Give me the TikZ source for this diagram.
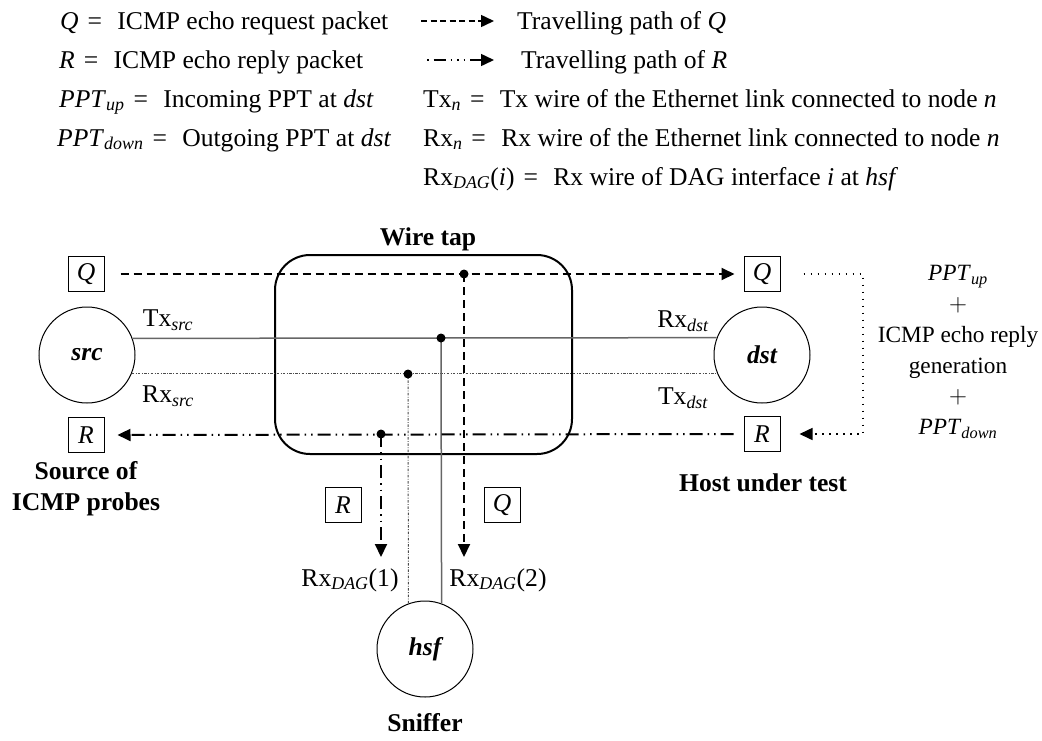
\documentclass[tikz,border=0pt]{standalone}
\usepackage{fontspec}
\setmainfont{Liberation Serif}
\usetikzlibrary{arrows.meta,calc}
\newcommand\subi[1]{\textsubscript{\itshape #1}}
\newcommand\eqs{\hspace{.35em}=\hspace{.6em}}
\begin{document}
\begin{tikzpicture}[x=1pt,y=-1pt,
  every node/.style={font=\fontsize{25.6}{30.6}\selectfont, inner sep=0pt},
  host/.style={circle, draw, line width=1pt, minimum size=96pt,
    font=\fontsize{25.6}{30.6}\selectfont\bfseries\itshape},
  pkt/.style={draw, line width=1pt, minimum width=36pt, minimum height=35pt,
    font=\fontsize{25.6}{30.6}\selectfont\itshape},
  caption/.style={font=\fontsize{25.6}{31}\selectfont\bfseries, align=center},
  note/.style={font=\fontsize{23.3}{30.8}\selectfont, align=center},
  tip/.style={-{Triangle[length=13pt,width=12pt]}},
  qpath/.style={line width=2pt, dash pattern=on 8pt off 5pt},
  rpath/.style={line width=2pt, dash pattern=on 13pt off 5pt on 1.5pt off 5pt on 1.5pt off 5pt},
  txwire/.style={line width=1.5pt, black!60},
  rxwire/.style={line width=1pt, black!70, dash pattern=on 2.5pt off 1.5pt on 0.8pt off 1.5pt},
  tapdot/.style={circle, fill, minimum size=9pt},
  pptpath/.style={line width=1.5pt, dash pattern=on 1.5pt off 5.5pt},
]
\useasboundingbox (0,0) rectangle (1042,740);

% ---- legend ----
\node[anchor=base west] (l1) at (60,29) {\textit{Q}\eqs ICMP echo request packet};
\node[anchor=base west] (l2) at (59,68) {\textit{R}\eqs ICMP echo reply packet};
\node[anchor=base west] (l3) at (59,107) {\textit{PPT}\subi{up}\eqs Incoming PPT at \textit{dst}};
\node[anchor=base west] (l4) at (57,146) {\textit{PPT}\subi{down}\eqs Outgoing PPT at \textit{dst}};
\node[anchor=base west] (l5) at (423,107) {Tx\subi{n}\eqs Tx wire of the Ethernet link connected to node \textit{n}};
\node[anchor=base west] (l6) at (423,146) {Rx\subi{n}\eqs Rx wire of the Ethernet link connected to node \textit{n}};
\node[anchor=base west] (l7) at (423,185) {Rx\subi{DAG}(\textit{i})\eqs Rx wire of DAG interface \textit{i} at \textit{hsf}};
\node[anchor=base west] (l8) at (517,29) {Travelling path of \textit{Q}};
\node[anchor=base west] (l9) at (521,68) {Travelling path of \textit{R}};

\coordinate (qa) at (421,21);
\coordinate (qb) at (494,21);
\coordinate (ra) at (427,60);
\coordinate (rb) at (494,60);
\draw[tip, line width=1.5pt, dash pattern=on 6pt off 3.5pt] (qa) -- (qb);
\draw[tip, line width=1.5pt, dash pattern=on 1.5pt off 5pt on 12pt off 5pt on 1.5pt off 5pt on 1.5pt off 5pt] (ra) -- (rb);

% ---- hosts ----
\node[host] (src) at (87,355) {src};
\node[host] (dst) at (762,355) {dst};
\node[host] (hsf) at (425,649) {hsf};

% ---- wire tap ----
\node[draw, line width=2pt, rounded corners=35pt, minimum width=297pt,
  minimum height=199pt] (tap) at (423.5,354.5) {};
\node[caption, anchor=base] (taplabel) at (428,245) {Wire tap};

% ---- packet boxes ----
\node[pkt] (qL) at (86,274) {Q};
\node[pkt] (qR) at (762,274) {Q};
\node[pkt] (rL) at (86,435) {R};
\node[pkt] (rR) at (762,434) {R};
\node[pkt] (rS) at (343,505) {R};
\node[pkt] (qS) at (502,505) {Q};

% ---- tap points ----
\coordinate (pq) at (464,274);
\coordinate (pt) at (441,338);
\coordinate (pr) at (408,374);
\coordinate (pR) at (381,434);
\coordinate (qend) at (464,557);
\coordinate (rend) at (381,557);
\coordinate (turn) at (863,434);

% ---- Ethernet wires ----
\draw[txwire] (src.20.7) -- (dst.159.3);
\draw[rxwire] (src.-23.3) -- (dst.203.3);
\draw[txwire] (pt) -- (hsf.70.5);
\draw[rxwire] (pr) -- (hsf.110.7);

% ---- packet paths ----
\draw[qpath, tip, shorten <=16pt, shorten >=9pt] (qL.east) -- (qR.west);
\draw[qpath, tip] (pq) -- (qend);
\draw[rpath, tip, shorten <=10pt, shorten >=13pt] (rR.west) -- (rL.east);
\draw[rpath, tip] (pR) -- (rend);
\draw[pptpath, tip, shorten <=23pt, shorten >=19pt] (qR.east) -| (turn) -- (rR.east);

\foreach \p/\n in {pq/dq, pt/dt, pr/dr, pR/dR}
  \node[tapdot] (\n) at (\p) {};

% ---- wire labels ----
\node (txs) at (168,320) {Tx\subi{src}};
\node (rxs) at (168,396) {Rx\subi{src}};
\node (rxd) at (683,321) {Rx\subi{dst}};
\node (txd) at (683,398) {Tx\subi{dst}};
\node (dag1) at (350,580) {Rx\subi{DAG}(1)};
\node (dag2) at (498,580) {Rx\subi{DAG}(2)};

% ---- processing at dst ----
\node[note] (proc) at (958,352)
  {\textit{PPT}\subi{up}\\$+$\\ICMP echo reply\\generation\\$+$\\\textit{PPT}\subi{down}};

% ---- captions ----
\node[caption] (srccap) at (86,489) {Source of\\ICMP probes};
\node[caption] (dstcap) at (763,483) {Host under test};
\node[caption] (hsfcap) at (425,723) {Sniffer};
\end{tikzpicture}
\end{document}
